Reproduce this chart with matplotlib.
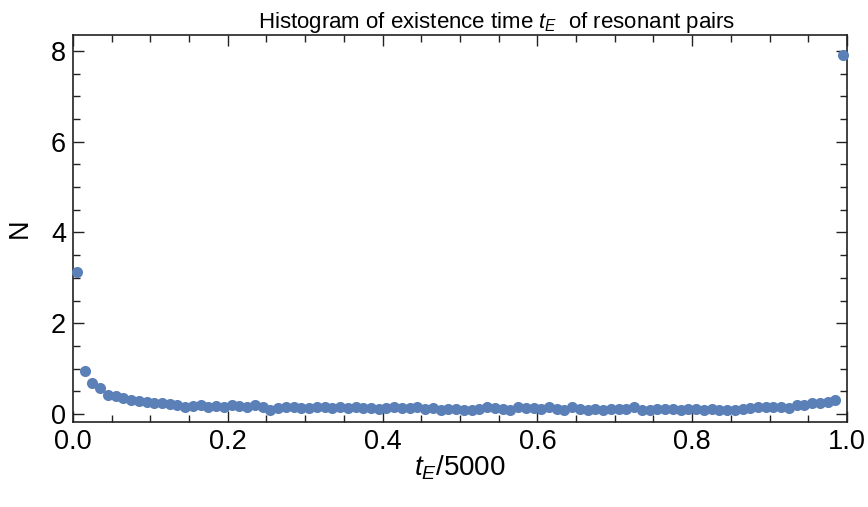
import matplotlib.pyplot as plt
import numpy as np
from matplotlib.ticker import MultipleLocator

plt.rcParams['font.family'] = ['Liberation Sans', 'DejaVu Sans']
plt.rcParams['mathtext.fontset'] = 'custom'
plt.rcParams['mathtext.it'] = 'Liberation Sans:italic'
plt.rcParams['mathtext.rm'] = 'Liberation Sans'

# bin centres of t_E/5000 (100 bins)
bin_centres = np.arange(100) * 0.01 + 0.005

# counts
counts = [
    3.12, 0.95, 0.69, 0.57, 0.43, 0.40, 0.35, 0.31, 0.28, 0.26,
    0.25, 0.24, 0.22, 0.20, 0.16, 0.18, 0.19, 0.16, 0.18, 0.16,
    0.21, 0.18, 0.16, 0.20, 0.16, 0.10, 0.13, 0.15, 0.16, 0.14,
    0.13, 0.15, 0.15, 0.14, 0.16, 0.13, 0.15, 0.13, 0.14, 0.12,
    0.14, 0.16, 0.13, 0.14, 0.15, 0.12, 0.13, 0.10, 0.11, 0.12,
    0.10, 0.09, 0.11, 0.15, 0.13, 0.12, 0.10, 0.15, 0.13, 0.14,
    0.11, 0.15, 0.12, 0.10, 0.16, 0.12, 0.10, 0.11, 0.10, 0.12,
    0.11, 0.12, 0.15, 0.08, 0.10, 0.11, 0.12, 0.11, 0.10, 0.12,
    0.11, 0.10, 0.12, 0.10, 0.10, 0.10, 0.12, 0.13, 0.15, 0.16,
    0.16, 0.15, 0.14, 0.21, 0.21, 0.25, 0.25, 0.27, 0.31, 7.92,
]

fig = plt.figure(figsize=(8.68, 5.07), dpi=100)
ax = fig.add_axes([0.0841, 0.168, 0.8917, 0.763])

ax.plot(bin_centres, counts, 'o', color='#5B80B8', markersize=8,
        markeredgewidth=0, clip_on=False, zorder=3)

ax.set_xlim(0, 1)
ax.set_ylim(-0.17, 8.35)

ax.xaxis.set_major_locator(MultipleLocator(0.2))
ax.xaxis.set_minor_locator(MultipleLocator(0.05))
ax.yaxis.set_major_locator(MultipleLocator(2))
ax.yaxis.set_minor_locator(MultipleLocator(0.5))

ax.tick_params(which='both', direction='in', top=True, right=True,
               labelsize=19.5, width=1, color='#222222', pad=5)
ax.tick_params(which='major', length=8)
ax.tick_params(which='minor', length=5)
for s in ax.spines.values():
    s.set_linewidth(1.2)
    s.set_color('#222222')

ax.set_title('Histogram of existence time $t_E$  of resonant pairs',
             fontsize=16, pad=4, x=0.547)
ax.set_xlabel('$t_E$/5000', fontsize=20, labelpad=-1)
ax.set_ylabel('N', fontsize=19.5, labelpad=13)

plt.savefig('out.png', dpi=100)
